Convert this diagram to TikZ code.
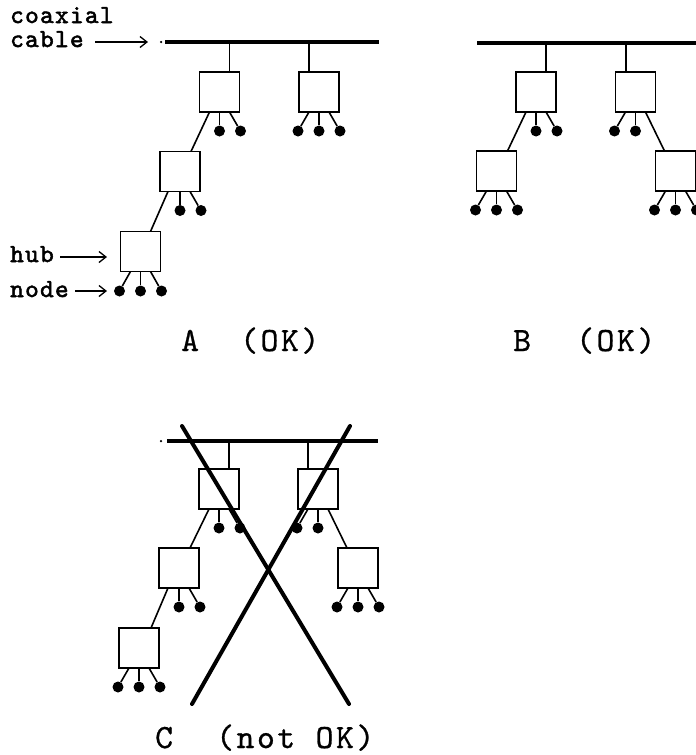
\documentclass[tikz,border=0pt]{standalone}
\usepackage{fontspec}
\newfontfamily\smallfont[LetterSpace=5,FakeBold=2]{lmmono10-regular.otf}
\newfontfamily\bigfont[LetterSpace=7.5,FakeBold=0.8]{lmmono10-regular.otf}
\usetikzlibrary{arrows.meta}
\begin{document}
\begin{tikzpicture}[x=1pt,y=-1pt,
  hub/.style={draw,line width=1.8pt,minimum width=40pt,minimum height=40pt,inner sep=0pt,outer sep=0pt},
  dot/.style={circle,fill,inner sep=0pt,minimum size=11pt},
  leg/.style={line width=1.6pt},
  cable/.style={line width=3.2pt},
  cross/.style={line width=4pt,line cap=round},
  small/.style={font=\smallfont\fontsize{26}{26}\selectfont,inner sep=0pt,anchor=base west},
  big/.style={font=\bigfont\fontsize{34}{34}\selectfont,inner sep=0pt,anchor=base west},
  pointer/.style={line width=1.3pt,-{Straight Barb[length=7pt,width=11pt]}},
  tick/.style={circle,fill,inner sep=0pt,minimum size=2.5pt}]
\useasboundingbox (0,0) rectangle (696,755);

% ---------------- A ----------------
\coordinate (Acl) at (165,42); \coordinate (Acr) at (379,42);
\node[tick] (At) at (161,42) {};
\draw[cable] (Acl) -- (Acr);
\node[hub] (A1) at (219.5,92) {};
\node[hub] (A2) at (319,92) {};
\node[hub] (A3) at (180,171.5) {};
\node[hub] (A4) at (140.5,251.5) {};
\coordinate (A1j) at (229.5,42); \coordinate (A2j) at (309,42);
\draw[leg] (A1j) -- (A1j |- A1.north);
\draw[leg] (A2j) -- (A2j |- A2.north);
\node[dot] (A1b) at (219.5,131) {}; \node[dot] (A1c) at (240.5,131) {};
\node[dot] (A2a) at (298,131) {}; \node[dot] (A2b) at (319,131) {}; \node[dot] (A2c) at (340,131) {};
\node[dot] (A3b) at (180,210.5) {}; \node[dot] (A3c) at (201,210.5) {};
\node[dot] (A4a) at (119.5,291) {}; \node[dot] (A4b) at (140.5,291) {}; \node[dot] (A4c) at (161.5,291) {};
\draw[leg] (A1.south) -- (A1b); \draw[leg] ([xshift=10pt]A1.south) -- (A1c);
\draw[leg] ([xshift=-10pt]A1.south) -- ([xshift=11pt]A3.north);
\draw[leg] ([xshift=-10pt]A2.south) -- (A2a); \draw[leg] (A2.south) -- (A2b); \draw[leg] ([xshift=10pt]A2.south) -- (A2c);
\draw[leg] (A3.south) -- (A3b); \draw[leg] ([xshift=10pt]A3.south) -- (A3c);
\draw[leg] ([xshift=-12pt]A3.south) -- ([xshift=10pt]A4.north);
\draw[leg] ([xshift=-10pt]A4.south) -- (A4a); \draw[leg] (A4.south) -- (A4b); \draw[leg] ([xshift=10pt]A4.south) -- (A4c);

% labels
\node[small] (coax) at (10,23) {coaxial};
\node[small] (cablelbl) at (10,47) {cable};
\coordinate (cabtail) at (95,42); \coordinate (cabtip) at (148,42);
\draw[pointer] (cabtail) -- (cabtip);
\node[small] (hublbl) at (10,262) {hub};
\coordinate (hubtail) at (60,257); \coordinate (hubtip) at (107,257);
\draw[pointer] (hubtail) -- (hubtip);
\node[small] (nodelbl) at (10,297) {node};
\coordinate (nodetail) at (75,291); \coordinate (nodetip) at (107,291);
\draw[pointer] (nodetail) -- (nodetip);

\node[big] (Alab) at (181,351) {A};
\node[big] (Aok) at (240,351) {(OK)};

% ---------------- B ----------------
\coordinate (Bcl) at (477,43); \coordinate (Bcr) at (700,43);
\draw[cable] (Bcl) -- (Bcr);
\node[hub] (B1) at (536,92) {};
\node[hub] (B2) at (635.5,92) {};
\node[hub] (B3) at (496.5,171) {};
\node[hub] (B4) at (675.5,171) {};
\coordinate (B1j) at (546,43); \coordinate (B2j) at (626,43);
\draw[leg] (B1j) -- (B1j |- B1.north);
\draw[leg] (B2j) -- (B2j |- B2.north);
\node[dot] (B1b) at (536,131) {}; \node[dot] (B1c) at (557,131) {};
\node[dot] (B2a) at (614.5,131) {}; \node[dot] (B2b) at (635.5,131) {};
\node[dot] (B3a) at (475.5,210) {}; \node[dot] (B3b) at (496.5,210) {}; \node[dot] (B3c) at (517.5,210) {};
\node[dot] (B4a) at (654.5,210) {}; \node[dot] (B4b) at (675.5,210) {}; \node[dot] (B4c) at (696.5,210) {};
\draw[leg] (B1.south) -- (B1b); \draw[leg] ([xshift=10pt]B1.south) -- (B1c);
\draw[leg] ([xshift=-10pt]B1.south) -- ([xshift=11pt]B3.north);
\draw[leg] ([xshift=-10pt]B2.south) -- (B2a); \draw[leg] (B2.south) -- (B2b);
\draw[leg] ([xshift=10pt]B2.south) -- ([xshift=-11pt]B4.north);
\draw[leg] ([xshift=-10pt]B3.south) -- (B3a); \draw[leg] (B3.south) -- (B3b); \draw[leg] ([xshift=10pt]B3.south) -- (B3c);
\draw[leg] ([xshift=-10pt]B4.south) -- (B4a); \draw[leg] (B4.south) -- (B4b); \draw[leg] ([xshift=10pt]B4.south) -- (B4c);

\node[big] (Blab) at (513,351) {B};
\node[big] (Bok) at (576,351) {(OK)};

% ---------------- C ----------------
\coordinate (Ccl) at (167,441); \coordinate (Ccr) at (378,441);
\node[tick] (Ct) at (161,441) {};
\draw[cable] (Ccl) -- (Ccr);
\node[hub] (C1) at (219,489) {};
\node[hub] (C2) at (318,489) {};
\node[hub] (C3) at (179,568) {};
\node[hub] (C4) at (139,648) {};
\node[hub] (C5) at (358,568) {};
\coordinate (C1j) at (229,441); \coordinate (C2j) at (308,441);
\draw[leg] (C1j) -- (C1j |- C1.north);
\draw[leg] (C2j) -- (C2j |- C2.north);
\node[dot] (C1b) at (219,528) {}; \node[dot] (C1c) at (240,528) {};
\node[dot] (C2a) at (297,528) {}; \node[dot] (C2b) at (318,528) {};
\node[dot] (C3b) at (179,607) {}; \node[dot] (C3c) at (200,607) {};
\node[dot] (C4a) at (118,687) {}; \node[dot] (C4b) at (139,687) {}; \node[dot] (C4c) at (160,687) {};
\node[dot] (C5a) at (337,607) {}; \node[dot] (C5b) at (358,607) {}; \node[dot] (C5c) at (379,607) {};
\draw[leg] (C1.south) -- (C1b); \draw[leg] ([xshift=10pt]C1.south) -- (C1c);
\draw[leg] ([xshift=-10pt]C1.south) -- ([xshift=11pt]C3.north);
\draw[leg] ([xshift=-10pt]C2.south) -- (C2a); \draw[leg] (C2.south) -- (C2b);
\draw[leg] ([xshift=10pt]C2.south) -- ([xshift=-11pt]C5.north);
\draw[leg] (C3.south) -- (C3b); \draw[leg] ([xshift=10pt]C3.south) -- (C3c);
\draw[leg] ([xshift=-11pt]C3.south) -- ([xshift=12pt]C4.north);
\draw[leg] ([xshift=-10pt]C4.south) -- (C4a); \draw[leg] (C4.south) -- (C4b); \draw[leg] ([xshift=10pt]C4.south) -- (C4c);
\draw[leg] ([xshift=-10pt]C5.south) -- (C5a); \draw[leg] (C5.south) -- (C5b); \draw[leg] ([xshift=10pt]C5.south) -- (C5c);

\coordinate (X1s) at (182,426); \coordinate (X1e) at (349,704);
\coordinate (X2s) at (350,426); \coordinate (X2e) at (192,704);
\draw[cross] (X1s) -- (X1e);
\draw[cross] (X2s) -- (X2e);

\node[big] (Clab) at (155,748) {C};
\node[big] (Cok) at (216,748) {(not OK)};
\end{tikzpicture}
\end{document}
